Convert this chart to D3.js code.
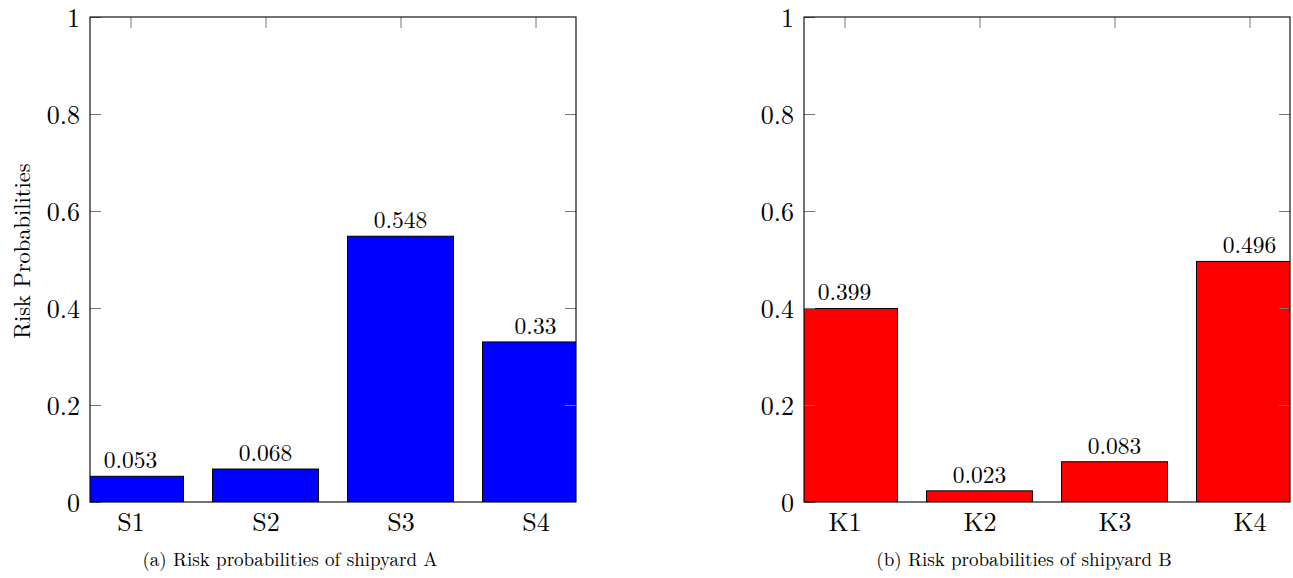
<!DOCTYPE html>
<html>
<head>
<meta charset="utf-8">
<script src="https://cdn.jsdelivr.net/npm/d3@7"></script>
<style>
  body { margin: 0; background: #fff; }
  text { font-family: "Latin Modern Roman", "Liberation Serif", "DejaVu Serif", serif; fill: #000; }
</style>
</head>
<body>
<div id="chart"></div>
<script>
// data
var shipyardA = ["S1", "S2", "S3", "S4"];
var valuesA = [0.053, 0.068, 0.548, 0.33];
var shipyardB = ["K1", "K2", "K3", "K4"];
var valuesB = [0.399, 0.023, 0.083, 0.496];
var yTicks = [0, 0.2, 0.4, 0.6, 0.8, 1];
var captions = ["(a) Risk probabilities of shipyard A", "(b) Risk probabilities of shipyard B"];

var W = 1293, H = 578;
var plotW = 486, plotH = 485;

var svg = d3.select("#chart").append("svg").attr("width", W).attr("height", H);

function drawPanel(idx, left, cats, vals, color, yLabel, capX) {
    var g = svg.append("g").attr("transform", "translate(" + left + ",17)");

    var x = d3.scaleLinear().domain([0.7, 4.3]).range([0, plotW]);
    var y = d3.scaleLinear().domain([0, 1]).range([plotH, 0]);
    var barW = x(1.785) - x(1);

    g.append("clipPath").attr("id", "clip" + idx)
        .append("rect").attr("width", plotW).attr("height", plotH);

    g.append("g").attr("clip-path", "url(#clip" + idx + ")")
        .selectAll("rect").data(vals).enter().append("rect")
        .attr("x", function(d, i) { return x(i + 1) - barW / 2; })
        .attr("y", function(d) { return y(d); })
        .attr("width", barW)
        .attr("height", function(d) { return plotH - y(d); })
        .style("fill", color)
        .style("stroke", "#000")
        .style("stroke-width", 1);

    // value labels
    g.selectAll(".val").data(vals).enter().append("text")
        .attr("x", function(d, i) { return x(i + 1); })
        .attr("y", function(d) { return y(d) - 8; })
        .attr("text-anchor", "middle")
        .style("font-size", "23.5px")
        .text(function(d) { return d; });

    // y axis left, ticks inward
    var yAxis = g.append("g").call(d3.axisLeft(y).tickValues(yTicks).tickSize(-11).tickPadding(10)
        .tickFormat(function(d) { return d; }));
    yAxis.select(".domain").remove();
    yAxis.selectAll("line").style("stroke", "#777");
    yAxis.selectAll("text").style("font-size", "26px").attr("dy", "0.35em");

    // mirrored ticks on the right
    var yRight = g.append("g").attr("transform", "translate(" + plotW + ",0)")
        .call(d3.axisRight(y).tickValues(yTicks.slice(1, 5)).tickSize(-11).tickFormat(""));
    yRight.select(".domain").remove();
    yRight.selectAll("line").style("stroke", "#777");

    // top ticks at bar centres
    var xTop = g.append("g")
        .call(d3.axisTop(x).tickValues([1, 2, 3, 4]).tickSize(-11).tickFormat(""));
    xTop.select(".domain").remove();
    xTop.selectAll("line").style("stroke", "#777");

    // bottom labels
    var xBot = g.append("g").attr("transform", "translate(0," + plotH + ")")
        .call(d3.axisBottom(x).tickValues([1, 2, 3, 4]).tickSize(0).tickPadding(10.5)
            .tickFormat(function(d) { return cats[d - 1]; }));
    xBot.select(".domain").remove();
    xBot.selectAll("text").style("font-size", "26px");

    // frame
    g.append("rect").attr("width", plotW).attr("height", plotH)
        .style("fill", "none").style("stroke", "#000").style("stroke-width", 1.1);

    if (yLabel) {
        g.append("text")
            .attr("transform", "translate(" + (-68) + "," + 234 + ") rotate(-90)")
            .attr("text-anchor", "middle")
            .attr("dy", "0.35em")
            .style("font-size", "22.5px")
            .text(yLabel);
    }

    svg.append("text")
        .attr("x", capX).attr("y", 566)
        .attr("text-anchor", "middle")
        .style("font-size", "19px")
        .text(captions[idx]);
}

drawPanel(0, 90, shipyardA, valuesA, "#0000ff", "Risk Probabilities", 290);
drawPanel(1, 804, shipyardB, valuesB, "#ff0000", null, 1024);
</script>
</body>
</html>
